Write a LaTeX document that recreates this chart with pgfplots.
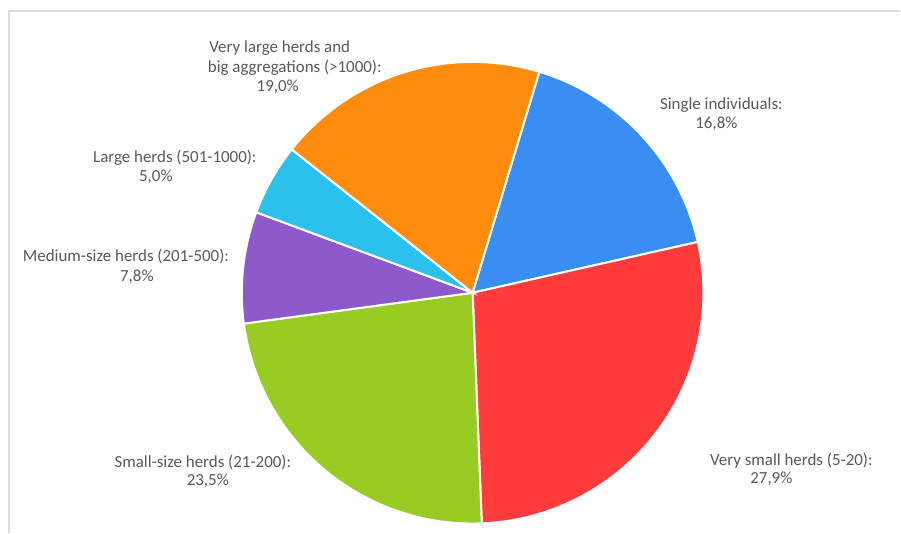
\documentclass[border=0pt]{standalone}
\usepackage{pgfplots}
\pgfplotsset{compat=1.18}
\usepackage{fontspec}
\setmainfont{Carlito}
\definecolor{cBlue}{HTML}{3A8EF2}
\definecolor{cRed}{HTML}{FF3B3B}
\definecolor{cGreen}{HTML}{98CC24}
\definecolor{cPurple}{HTML}{8E5ACB}
\definecolor{cCyan}{HTML}{2BC1EC}
\definecolor{cOrange}{HTML}{FF8C0C}
\definecolor{txt}{HTML}{5A5A5A}
\definecolor{frame}{HTML}{DDDDDD}
% slice shares (percent), clockwise from the start angle
\def\pA{16.8}\def\pB{27.9}\def\pC{23.5}\def\pD{7.8}\def\pE{5.0}\def\pF{19.0}
\def\cx{473}\def\cy{240}\def\rr{231}
\pgfmathsetmacro{\aA}{73.2}
\pgfmathsetmacro{\aB}{\aA-3.6*\pA}
\pgfmathsetmacro{\aC}{\aB-3.6*\pB}
\pgfmathsetmacro{\aD}{\aC-3.6*\pC}
\pgfmathsetmacro{\aE}{\aD-3.6*\pD}
\pgfmathsetmacro{\aF}{\aE-3.6*\pE}
\pgfmathsetmacro{\aG}{\aF-3.6*\pF}
\begin{document}
\begin{tikzpicture}[lab/.style={font=\fontsize{17}{20}\selectfont, text=txt, inner sep=0pt}]
\begin{axis}[
  width=901bp, height=533bp, scale only axis,
  xmin=0, xmax=901, ymin=0, ymax=533,
  hide axis, clip=false,
]
\path[fill=white] (axis cs:0,0) rectangle (axis cs:901,533);
\draw[frame, line width=1.5bp] (axis cs:9,0) -- (axis cs:9,522) -- (axis cs:901,522);
\addplot[fill=cBlue, draw=white, line width=2bp, domain=\aB:\aA, samples=80, variable=\t]
  ({\cx+\rr*cos(\t)},{\cy+\rr*sin(\t)}) -- (axis cs:\cx,\cy) -- cycle;
\addplot[fill=cRed, draw=white, line width=2bp, domain=\aC:\aB, samples=120, variable=\t]
  ({\cx+\rr*cos(\t)},{\cy+\rr*sin(\t)}) -- (axis cs:\cx,\cy) -- cycle;
\addplot[fill=cGreen, draw=white, line width=2bp, domain=\aD:\aC, samples=100, variable=\t]
  ({\cx+\rr*cos(\t)},{\cy+\rr*sin(\t)}) -- (axis cs:\cx,\cy) -- cycle;
\addplot[fill=cPurple, draw=white, line width=2bp, domain=\aE:\aD, samples=40, variable=\t]
  ({\cx+\rr*cos(\t)},{\cy+\rr*sin(\t)}) -- (axis cs:\cx,\cy) -- cycle;
\addplot[fill=cCyan, draw=white, line width=2bp, domain=\aF:\aE, samples=30, variable=\t]
  ({\cx+\rr*cos(\t)},{\cy+\rr*sin(\t)}) -- (axis cs:\cx,\cy) -- cycle;
\addplot[fill=cOrange, draw=white, line width=2bp, domain=\aG:\aF, samples=80, variable=\t]
  ({\cx+\rr*cos(\t)},{\cy+\rr*sin(\t)}) -- (axis cs:\cx,\cy) -- cycle;
% labels
\node[lab] at (axis cs:280,485) {Very large herds and};
\node[lab] at (axis cs:295,465) {big aggregations (>1000):};
\node[lab] at (axis cs:278,446) {19,0\%};
\node[lab] at (axis cs:722,428) {Single individuals:};
\node[lab] at (axis cs:717,409) {16,8\%};
\node[lab] at (axis cs:175,375) {Large herds (501-1000):};
\node[lab] at (axis cs:156,356) {5,0\%};
\node[lab] at (axis cs:126,276) {Medium-size herds (201-500):};
\node[lab] at (axis cs:137,256) {7,8\%};
\node[lab] at (axis cs:203,70) {Small-size herds (21-200):};
\node[lab] at (axis cs:208,52) {23,5\%};
\node[lab] at (axis cs:792,72) {Very small herds (5-20):};
\node[lab] at (axis cs:772,54) {27,9\%};
\end{axis}
\end{tikzpicture}
\end{document}
